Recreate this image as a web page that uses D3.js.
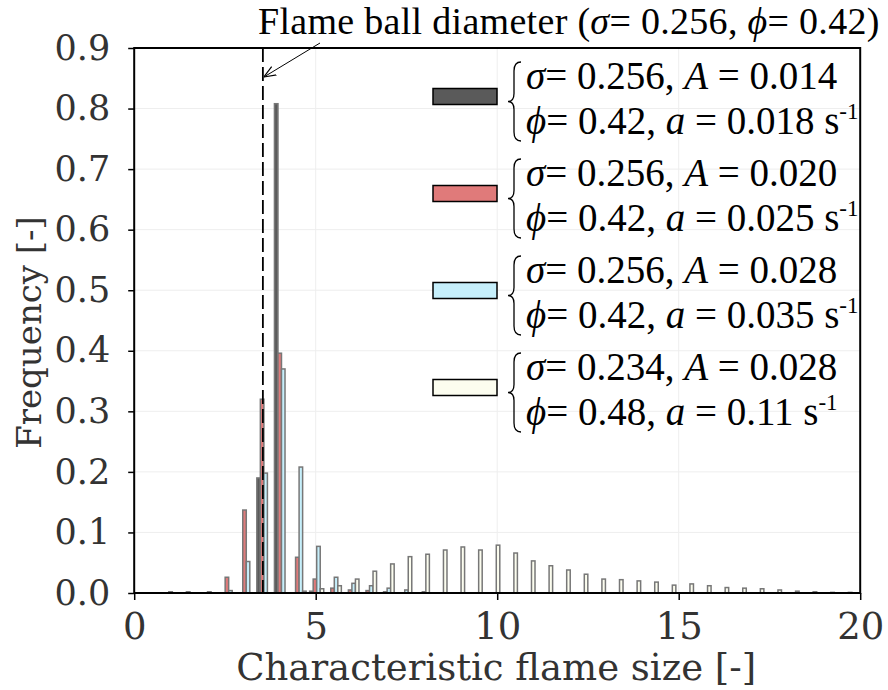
<!DOCTYPE html>
<html><head><meta charset="utf-8">
<script src="https://cdn.jsdelivr.net/npm/d3@7"></script>
<style>
html,body{margin:0;padding:0;background:#fff;}
svg{display:block;}
</style></head>
<body>
<svg id="c" width="888" height="690"></svg>
<script>
// ---- data ----
const binLeft = [0.905,1.39,1.875,2.36,2.845,3.33,3.815,4.30,4.785,5.27,5.755,6.24,6.725,7.21,7.695,8.18,8.665,9.15,9.635,10.12,10.605,11.09,11.575,12.06,12.545,13.03,13.515,14.0,14.485,14.97,15.455,15.94,16.425,16.91,17.395,17.88,18.365,18.85,19.335];
const binWidth = 0.485;
const grayVals  = [0.002,0.002,0,0,0,0.19,0.808,0,0.003,0,0,0,0,0,0,0,0,0,0,0,0,0,0,0,0,0,0,0,0,0,0,0,0,0,0,0,0,0,0];
const redVals   = [0,0,0.002,0.026,0.137,0.32,0.396,0.059,0.023,0.008,0.005,0.004,0.002,0,0,0,0,0,0,0,0,0,0,0,0,0,0,0,0,0,0,0,0,0,0,0,0,0,0];
const blueVals  = [0,0,0,0.004,0.052,0.198,0.37,0.208,0.077,0.026,0.016,0.012,0.008,0.005,0.002,0,0,0,0,0,0,0,0,0,0,0,0,0,0,0,0,0,0,0,0,0,0,0,0];
const ivoryVals = [0,0,0,0,0,0,0,0.003,0.007,0.012,0.023,0.036,0.048,0.06,0.064,0.071,0.076,0.071,0.079,0.066,0.053,0.045,0.038,0.031,0.023,0.022,0.020,0.018,0.013,0.015,0.012,0.009,0.008,0.007,0.005,0.003,0.002,0.001,0.001];
const xTicks = [0,5,10,15,20];
const yTicks = [0,0.1,0.2,0.3,0.4,0.5,0.6,0.7,0.8,0.9];
const flameBall = 3.545;
const seriesColors = ["#5a5a5a","#e07a7a","#c6effb","#fcfdef"];
const legendLines = [
  [["σ","= 0.256, ","A"," = 0.014"],["ϕ","= 0.42, ","a"," = 0.018 s","-1"]],
  [["σ","= 0.256, ","A"," = 0.020"],["ϕ","= 0.42, ","a"," = 0.025 s","-1"]],
  [["σ","= 0.256, ","A"," = 0.028"],["ϕ","= 0.42, ","a"," = 0.035 s","-1"]],
  [["σ","= 0.234, ","A"," = 0.028"],["ϕ","= 0.48, ","a"," = 0.11 s","-1"]]
];
// ---- chart ----
const series = [grayVals, redVals, blueVals, ivoryVals];
const svg = d3.select("#c");
const L=134.2, R=860.2, T=48, B=593;
const x = d3.scaleLinear().domain([0,20]).range([L,R]);
const y = d3.scaleLinear().domain([0,0.9]).range([B,T]);

const defs = svg.append("defs");
defs.append("clipPath").attr("id","clip")
  .append("rect").attr("x",L).attr("y",T).attr("width",R-L).attr("height",B-T);

// grid
const g = svg.append("g");
g.selectAll(".gx").data(xTicks.slice(1,-1)).enter().append("line")
  .attr("x1",d=>x(d)).attr("x2",d=>x(d)).attr("y1",T).attr("y2",B)
  .attr("stroke","#eeeeee").attr("stroke-width",1);
g.selectAll(".gy").data(yTicks.slice(1,-1)).enter().append("line")
  .attr("x1",L).attr("x2",R).attr("y1",d=>y(d)).attr("y2",d=>y(d))
  .attr("stroke","#eeeeee").attr("stroke-width",1);

// bars
const bars = svg.append("g").attr("clip-path","url(#clip)");
series.forEach((vals,s)=>{
  bars.selectAll(".b"+s).data(vals.map((v,i)=>({v,e:binLeft[i]})).filter(d=>d.v>0))
    .enter().append("rect")
    .attr("x",d=>x(d.e+binWidth*(0.1+0.2*s)))
    .attr("width",d=>x(binWidth*0.2)-x(0))
    .attr("y",d=>y(d.v))
    .attr("height",d=>y(0)-y(d.v))
    .attr("fill",seriesColors[s])
    .attr("stroke","#777").attr("stroke-width",1.5);
});

// dashed line
svg.append("line").attr("x1",x(flameBall)).attr("x2",x(flameBall))
  .attr("y1",T).attr("y2",B).attr("stroke","#000").attr("stroke-width",1.8)
  .attr("stroke-dasharray","14,5");

// axes
const xAxis = d3.axisBottom(x).tickValues(xTicks).tickSize(7).tickPadding(13).tickFormat(d3.format("d"));
const yAxis = d3.axisLeft(y).tickValues(yTicks).tickSize(6).tickPadding(18).tickFormat(d3.format(".1f"));
const gx = svg.append("g").attr("transform",`translate(0,${B})`).call(xAxis);
const gy = svg.append("g").attr("transform",`translate(${L},0)`).call(yAxis);
[gx,gy].forEach(a=>{
  a.select(".domain").remove();
  a.selectAll(".tick line").attr("stroke","#000").attr("stroke-width",1.5);
  a.selectAll(".tick text").attr("fill","#333").style("font-family","DejaVu Serif");
});
gx.selectAll(".tick text").style("font-size","37px");
gy.selectAll(".tick text").style("font-size","35px");
// frame
svg.append("rect").attr("x",L).attr("y",T).attr("width",R-L).attr("height",B-T)
  .attr("fill","none").attr("stroke","#000").attr("stroke-width",2);

// axis labels
svg.append("text").attr("x",(L+R)/2-1).attr("y",680).attr("text-anchor","middle")
  .attr("fill","#333").style("font-family","DejaVu Serif").style("font-size","37px")
  .text("Characteristic flame size [-]");
svg.append("text").attr("transform",`translate(41,${(T+B)/2+12}) rotate(-90)`).attr("text-anchor","middle")
  .attr("fill","#333").style("font-family","DejaVu Serif").style("font-size","34px")
  .text("Frequency [-]");

// annotation
const ann = svg.append("text").attr("x",258).attr("y",34)
  .style("font-family","Liberation Serif").style("font-size","38px")
  .style("letter-spacing","0.3px").attr("fill","#000");
ann.append("tspan").text("Flame ball diameter (");
ann.append("tspan").style("font-style","italic").text("σ");
ann.append("tspan").text("= 0.256, ");
ann.append("tspan").style("font-style","italic").text("ϕ");
ann.append("tspan").text("= 0.42)");
defs.append("marker").attr("id","arr").attr("viewBox","0 0 10 10")
  .attr("refX",10).attr("refY",5).attr("markerWidth",12).attr("markerHeight",12)
  .attr("markerUnits","userSpaceOnUse").attr("orient","auto")
  .append("path").attr("d","M0,1 L10,5 L0,9").attr("fill","none").attr("stroke","#000").attr("stroke-width",1);
svg.append("line").attr("x1",320).attr("y1",43).attr("x2",x(flameBall)+1).attr("y2",77)
  .attr("stroke","#000").attr("stroke-width",1).attr("marker-end","url(#arr)");

// legend
const leg = svg.append("g");
legendLines.forEach((ent,i)=>{
  const base = 89 + i*97;
  leg.append("rect").attr("x",433).attr("y",base-0.5).attr("width",64).attr("height",16)
    .attr("fill",seriesColors[i]).attr("stroke","#000").attr("stroke-width",1.5);
  const top = base-27, bot = base+52, mid = (top+bot)/2, bx=514;
  leg.append("path").attr("d",
    `M${bx+7},${top} Q${bx},${top} ${bx},${top+9} L${bx},${mid-8} Q${bx},${mid} ${bx-6},${mid} Q${bx},${mid} ${bx},${mid+8} L${bx},${bot-9} Q${bx},${bot} ${bx+7},${bot}`)
    .attr("fill","none").attr("stroke","#000").attr("stroke-width",1.3);
  ent.forEach((parts,j)=>{
    const t = leg.append("text").attr("x",526).attr("y",base+j*45)
      .style("font-family","Liberation Serif").style("font-size","39px").attr("fill","#000");
    t.append("tspan").style("font-style","italic").text(parts[0]);
    t.append("tspan").text(parts[1]);
    t.append("tspan").style("font-style","italic").text(parts[2]);
    t.append("tspan").text(parts[3]);
    if(parts[4]) t.append("tspan").attr("dy",-15).style("font-size","23px").text(parts[4]);
  });
});
</script>
</body></html>
